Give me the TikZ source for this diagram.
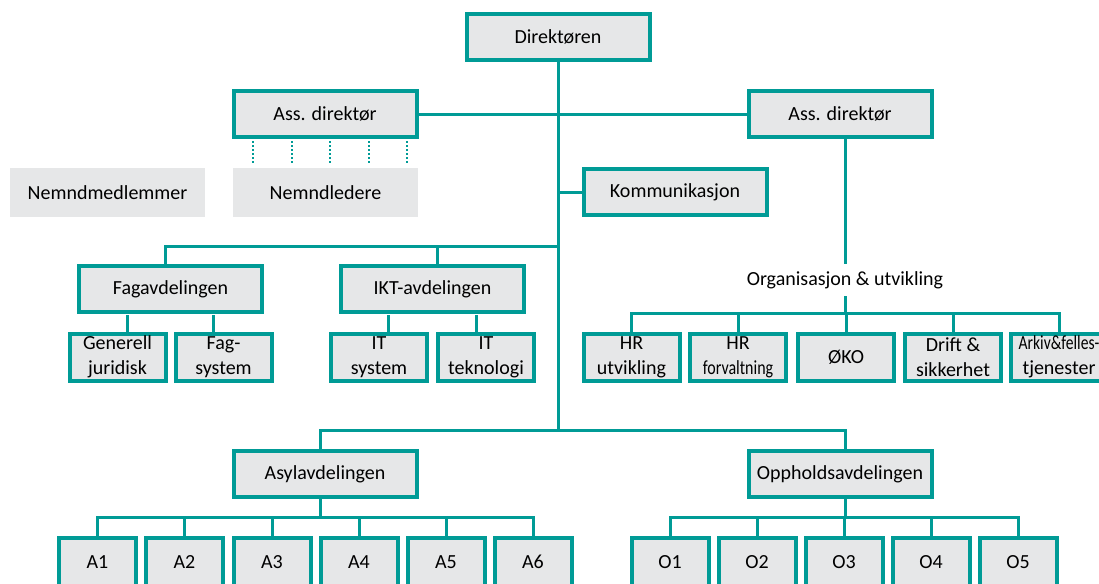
\documentclass[tikz,border=0pt]{standalone}
\usepackage{fontspec}
\setmainfont{Carlito}
\usepackage{graphicx}
\usepackage{tikz}

\definecolor{orgteal}{RGB}{0,155,150}
\definecolor{orggray}{RGB}{230,231,232}
\newcommand{\orgfont}{\fontsize{10}{12.5}\selectfont}

\begin{document}
\begin{tikzpicture}[x=0.5pt, y=-0.5pt,
    unit/.style={draw=orgteal, line width=2pt, fill=orggray, inner sep=0pt,
                 minimum width=91.5pt, minimum height=23pt, align=center, font=\orgfont},
    subunit/.style={unit, minimum width=48pt, minimum height=23.5pt},
    leaf/.style={unit, minimum width=38.5pt, minimum height=24pt},
    bare/.style={fill=orggray, inner sep=0pt, minimum height=24.5pt, font=\orgfont},
    conn/.style={draw=orgteal, line width=1.5pt},
    dotline/.style={draw=orgteal, line width=1.3pt, dash pattern=on 1pt off 1pt}]
  \useasboundingbox (0,0) rectangle (1099,584);
  \clip (0,0) rectangle (1099,584);

  % top of the chart
  \node[unit]                        (dir)    at (558,37)   {Direktøren};
  \node[unit]                        (assL)   at (325,114)  {Ass. direktør};
  \node[unit]                        (assR)   at (840,114)  {Ass. direktør};
  \node[unit]                        (komm)   at (675,192)  {Kommunikasjon};
  \node[bare, minimum width=97.5pt]  (nemndM) at (107.5,192.5) {Nemndmedlemmer};
  \node[bare, minimum width=92.5pt]  (nemndL) at (325.5,192.5) {Nemndledere};

  % middle row
  \node[unit]                        (fag)    at (170.5,289) {Fagavdelingen};
  \node[unit]                        (ikt)    at (432.5,289) {IKT-avdelingen};
  \node[subunit]                     (genj)   at (117.5,357) {Generell\\juridisk};
  \node[subunit]                     (fsys)   at (223.5,357) {Fag-\\system};
  \node[subunit]                     (itsys)  at (379,357)   {IT\\system};
  \node[subunit]                     (itek)   at (486,357)   {IT\\teknologi};

  \node[font=\orgfont, inner sep=0pt, minimum height=16pt] (org) at (845,280) {Organisasjon \& utvikling};
  \node[subunit]                     (hrutv)  at (631.5,357) {HR\\utvikling};
  \node[subunit]                     (hrforv) at (738,357)   {HR\\\scalebox{0.8}[1]{forvaltning}};
  \node[subunit]                     (oko)    at (846,357)   {ØKO};
  \node[subunit]                     (drift)  at (953,357)   {Drift \&\\sikkerhet};
  \node[subunit]                     (arkiv)  at (1059,357)  {\scalebox{0.78}[1]{Arkiv\&felles-}\\tjenester};

  % bottom
  \node[unit]                        (asyl)   at (325,474)  {Asylavdelingen};
  \node[unit]                        (opph)   at (840,474)  {Oppholdsavdelingen};
  \foreach \n/\x in {1/97.5, 2/184.5, 3/272, 4/359, 5/446, 6/533}
    \node[leaf] (a\n) at (\x,562) {A\n};
  \foreach \n/\x in {1/670, 2/757, 3/844, 4/931, 5/1018}
    \node[leaf] (o\n) at (\x,562) {O\n};

  \coordinate (midbar) at (558,246);
  \coordinate (lowbar) at (558,430);

  % connectors
  \path[conn] (assL.east) edge (assR.west)
              (dir.south) edge (lowbar)
              (komm.west) edge (komm.west -| dir.south);
  \draw[conn] (assR.south) ++(5,0) -- (org.north);
  \foreach \dx in {-72,-33,5,44,82}
    \draw[dotline] (assL.south) ++(\dx,2) -- ++(0,24);

  \draw[conn] (fag.north) ++(-5.5,0) |- (midbar);
  \draw[conn] (ikt.north) ++(4.5,0) |- (midbar);
  \draw[conn] (genj.north) ++(9.5,0) -- ++(0,-17);
  \draw[conn] (fsys.north) ++(-10.5,0) -- ++(0,-17);
  \draw[conn] (itsys.north) ++(9,0) -- ++(0,-17);
  \draw[conn] (itek.north) ++(-10,0) -- ++(0,-17);
  \foreach \n in {hrutv,hrforv,oko,drift,arkiv}
    \draw[conn] (org.south) -- ++(0,17) -| (\n.north);

  \draw[conn] (asyl.north) ++(-5,0) |- (lowbar);
  \draw[conn] (opph.north) ++(5,0) |- (lowbar);
  \foreach \n in {1,...,6}
    \draw[conn] (asyl.south) ++(-5,0) -- ++(0,18) -| (a\n.north);
  \foreach \n in {1,...,5}
    \draw[conn] (opph.south) ++(5,0) -- ++(0,18) -| (o\n.north);
\end{tikzpicture}
\end{document}
